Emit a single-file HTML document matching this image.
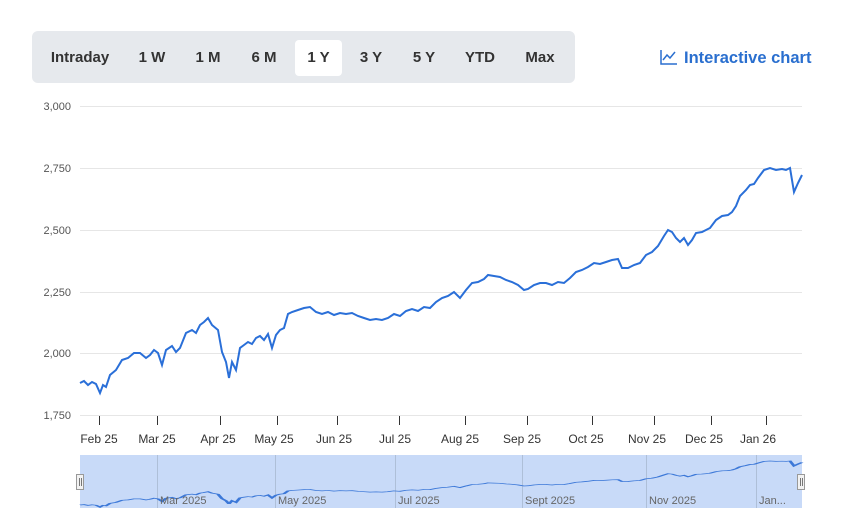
<!DOCTYPE html>
<html><head><meta charset="utf-8"><style>
body{margin:0;width:849px;height:526px;background:#fff;font-family:"Liberation Sans",sans-serif;overflow:hidden;position:relative}
.bar{position:absolute;left:32px;top:31px;width:543px;height:52px;background:#e6e9ed;border-radius:6px}
.b{position:absolute;top:9px;height:36px;line-height:36px;font-size:15px;font-weight:bold;color:#333;text-align:center}
.sel{background:#fff;border-radius:4px}
.ic{position:absolute;left:660px;top:49px;color:#2a6fcf;font-size:16.5px;font-weight:bold}
</style></head><body>
<div class="bar">
<div class="b" style="left:12px;width:72px">Intraday</div>
<div class="b" style="left:98px;width:44px">1 W</div>
<div class="b" style="left:154px;width:44px">1 M</div>
<div class="b" style="left:210px;width:44px">6 M</div>
<div class="b sel" style="left:263px;width:47px">1 Y</div>
<div class="b" style="left:317px;width:44px">3 Y</div>
<div class="b" style="left:370px;width:44px">5 Y</div>
<div class="b" style="left:425px;width:46px">YTD</div>
<div class="b" style="left:486px;width:44px">Max</div>
</div>
<div class="ic"><svg width="18" height="16" style="vertical-align:-2px;margin-right:6px"><path d="M1 1V15H17" stroke="#2a6fcf" fill="none" stroke-width="1.5"/><path d="M3 11L7 6L10 9L15 3" stroke="#2a6fcf" fill="none" stroke-width="1.5"/></svg>Interactive chart</div>
<svg width="849" height="526" style="position:absolute;left:0;top:0">
<g stroke="#e6e6e6" stroke-width="1">
<line x1="80" x2="802" y1="106.5" y2="106.5"/><line x1="80" x2="802" y1="168.5" y2="168.5"/><line x1="80" x2="802" y1="230.5" y2="230.5"/><line x1="80" x2="802" y1="292.5" y2="292.5"/><line x1="80" x2="802" y1="353.5" y2="353.5"/><line x1="80" x2="802" y1="415.5" y2="415.5"/>
</g>
<g font-size="11" fill="#555" text-anchor="end">
<text x="71" y="110">3,000</text><text x="71" y="172">2,750</text><text x="71" y="234">2,500</text><text x="71" y="296">2,250</text><text x="71" y="357">2,000</text><text x="71" y="419">1,750</text>
</g>
<g stroke="#333" stroke-width="1">
<line x1="99.5" x2="99.5" y1="416" y2="425"/><line x1="157.5" x2="157.5" y1="416" y2="425"/><line x1="220.5" x2="220.5" y1="416" y2="425"/><line x1="277.5" x2="277.5" y1="416" y2="425"/><line x1="337.5" x2="337.5" y1="416" y2="425"/><line x1="399.5" x2="399.5" y1="416" y2="425"/><line x1="465.5" x2="465.5" y1="416" y2="425"/><line x1="527.5" x2="527.5" y1="416" y2="425"/><line x1="592.5" x2="592.5" y1="416" y2="425"/><line x1="654.5" x2="654.5" y1="416" y2="425"/><line x1="711.5" x2="711.5" y1="416" y2="425"/><line x1="766.5" x2="766.5" y1="416" y2="425"/>
</g>
<g font-size="12" fill="#333" text-anchor="middle">
<text x="99" y="443">Feb 25</text><text x="157" y="443">Mar 25</text><text x="218" y="443">Apr 25</text><text x="274" y="443">May 25</text><text x="334" y="443">Jun 25</text><text x="395" y="443">Jul 25</text><text x="460" y="443">Aug 25</text><text x="522" y="443">Sep 25</text><text x="586" y="443">Oct 25</text><text x="647" y="443">Nov 25</text><text x="704" y="443">Dec 25</text><text x="758" y="443">Jan 26</text>
</g>
<defs><polyline id="s" points="80,383 84,381 88,385 92,382 96,384 100,393 103,385 106,387 110,375 116,370 122,360 128,358 134,353 140,353 146,358 150,355 154,350 158,353 162,365 166,350 172,346 176,352 180,348 186,333 192,330 196,333 200,325 204,322 208,318 212,325 218,330 222,352 226,362 229,378 232,362 236,370 240,348 244,345 248,342 252,344 256,338 260,336 264,340 268,334 272,348 276,335 280,330 284,328 288,314 292,312 298,310 304,308 310,307 316,312 322,314 328,312 334,315 340,313 346,314 352,313 358,316 364,318 370,320 376,319 382,320 388,318 394,314 400,316 406,311 412,309 418,311 424,307 430,308 436,302 442,298 448,296 454,292 460,298 466,290 472,283 478,282 484,279 488,275 494,276 500,277 506,280 512,282 518,285 524,290 528,289 534,285 540,283 546,283 552,285 558,282 564,283 570,278 576,272 582,270 588,267 594,263 600,264 606,262 612,260 618,259 622,268 628,268 634,265 640,263 646,255 652,252 658,246 664,236 668,230 672,232 676,238 680,242 684,238 688,245 692,240 696,233 702,232 706,230 710,228 716,220 722,216 728,215 732,212 736,206 740,196 746,190 750,185 754,184 758,178 764,170 770,168 776,170 782,169 786,170 790,168 794,192 798,183 802,175" fill="none"/></defs>
<use href="#s" stroke="#2a6fd8" stroke-width="2"/>
<rect x="80" y="455" width="722" height="53" fill="#c8daf8"/>
<g stroke="#aebfd8" stroke-width="1">
<line x1="157.5" x2="157.5" y1="455" y2="508"/><line x1="275.5" x2="275.5" y1="455" y2="508"/><line x1="395.5" x2="395.5" y1="455" y2="508"/><line x1="522.5" x2="522.5" y1="455" y2="508"/><line x1="646.5" x2="646.5" y1="455" y2="508"/><line x1="756.5" x2="756.5" y1="455" y2="508"/>
</g>
<g transform="translate(0,426.6) scale(1,0.2047)"><use href="#s" stroke="#3c78d8" stroke-width="3.5"/></g>
<g font-size="11" fill="#666">
<text x="160" y="504">Mar 2025</text><text x="278" y="504">May 2025</text><text x="398" y="504">Jul 2025</text><text x="525" y="504">Sept 2025</text><text x="649" y="504">Nov 2025</text><text x="759" y="504">Jan...</text>
</g>
<rect x="76.5" y="474.5" width="7" height="15" fill="#f2f2f2" stroke="#999"/>
<rect x="797.5" y="474.5" width="7" height="15" fill="#f2f2f2" stroke="#999"/>
<line x1="79.5" x2="79.5" y1="478" y2="486" stroke="#777"/><line x1="81.5" x2="81.5" y1="478" y2="486" stroke="#777"/>
<line x1="800.5" x2="800.5" y1="478" y2="486" stroke="#777"/><line x1="802.5" x2="802.5" y1="478" y2="486" stroke="#777"/>
</svg>
</body></html>
